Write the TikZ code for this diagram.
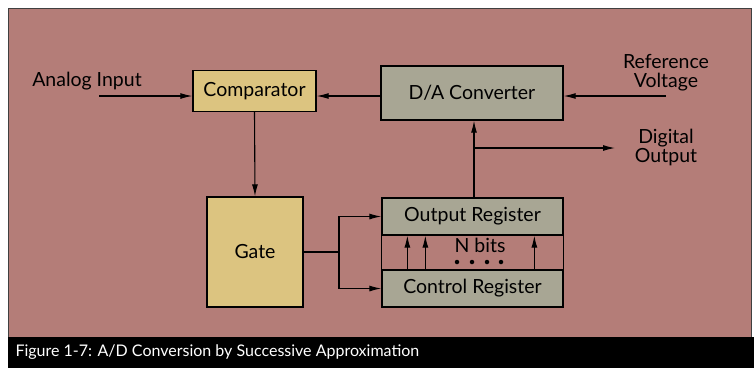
\documentclass[tikz,border=0pt]{standalone}
\usepackage{fontspec}
\setmainfont{Lato}
\usetikzlibrary{arrows.meta}
\definecolor{rosebg}{RGB}{180,125,120}
\definecolor{tanbox}{RGB}{220,196,128}
\definecolor{graybox}{RGB}{168,166,148}
\tikzset{tanblock/.style={draw,line width=1.3pt,fill=tanbox,inner sep=0pt},
grayblock/.style={draw,line width=1.3pt,fill=graybox,inner sep=0pt},
sig/.style={line width=1.1pt,-{Latex[length=12pt,width=6pt]}},
wire/.style={line width=1.1pt},
bitdot/.style={fill,circle,minimum size=4.5pt,inner sep=0pt}}

\begin{document}
\begin{tikzpicture}[x=1pt,y=-1pt,font=\fontsize{19.5}{19}\selectfont]
\useasboundingbox (0,0) rectangle (754,368);
\fill[rosebg] (8,8) rectangle (751,337);
\draw[darkgray,line width=1pt] (8,337) -- (8,8) -- (751,8) -- (751,337);
\fill[black] (8,337) rectangle (754,368);
\node[anchor=west,text=white,font=\fontsize{16}{18}\selectfont] (cap) at (12,352) {Figure 1-7: A/D Conversion by Successive Approximation};

\node[tanblock,minimum width=123pt,minimum height=41pt] (comp) at (254.5,91) {Comparator};
\node[grayblock,minimum width=182pt,minimum height=54pt] (dac) at (472,93) {D/A Converter};
\node[tanblock,minimum width=96pt,minimum height=110pt] (gate) at (255,252) {Gate};
\node[grayblock,minimum width=181pt,minimum height=37pt] (outreg) at (472.5,216.5) {Output Register};
\node[grayblock,minimum width=181pt,minimum height=37pt] (ctrlreg) at (472.5,288.5) {Control Register};
\draw[line width=1.3pt] (outreg.north west) rectangle (ctrlreg.south east);

\node (ain) at (87,81) {Analog Input};
\node[align=center,inner sep=1pt] (vref) at (666,73) {Reference\\Voltage};
\node[align=center,inner sep=1pt] (dout) at (666,147) {Digital\\Output};
\node (nbits) at (480,245) {N bits};

\coordinate (ain0) at (99,96);
\coordinate (vref0) at (666,96);
\coordinate (tap) at (474,148);
\coordinate (dout0) at (615,148);
\coordinate (split) at (339,252);

% converter loop
\draw[sig] (ain0) -- (ain0 -| comp.west);
\draw[sig] (vref0) -- (vref0 -| dac.east);
\draw[sig] (ain0 -| dac.west) -- (ain0 -| comp.east);
\draw[sig] (comp.south) -- (gate.north);
\draw[wire] (outreg.north -| tap) -- (tap);
\draw[sig] (tap) -- (tap |- dac.south);
\draw[sig] (tap) -- (dout0);

% gate to registers
\draw[wire] (gate.east) -- (split);
\draw[sig] (split) |- (outreg.west);
\draw[sig] (split) |- (ctrlreg.west);

% bit lines
\foreach \bx in {26,44,153}{
\draw[sig] ([xshift=\bx pt]ctrlreg.north west) -- ([xshift=\bx pt]outreg.south west);
}
\foreach \dx in {-23,-8,7,21}{
\node[bitdot] at ([xshift=\dx pt,yshift=-17pt]nbits.center) {};
}
\end{tikzpicture}
\end{document}
